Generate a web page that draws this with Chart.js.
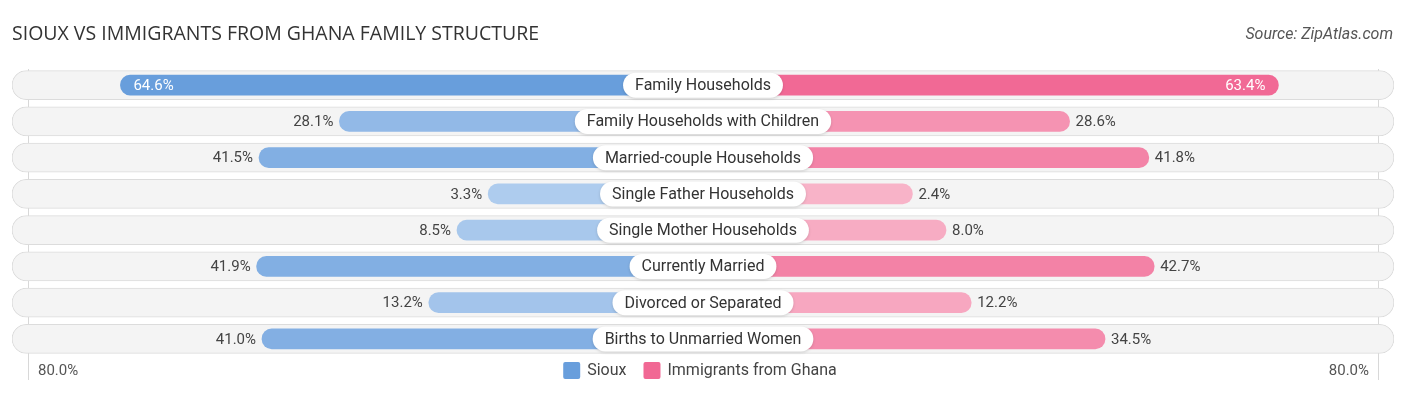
<!DOCTYPE html>
<html>
<head>
<meta charset="utf-8">
<script src="https://cdn.jsdelivr.net/npm/chart.js@4/dist/chart.umd.min.js"></script>
<style>
  html, body { margin: 0; padding: 0; background: #ffffff; }
  #wrap { position: relative; width: 1406px; height: 395px; }
  canvas { display: block; }
</style>
</head>
<body>
<div id="wrap"><canvas id="c" width="1406" height="395"></canvas></div>
<script>
// ---- data ----
const categories = [
  "Family Households",
  "Family Households with Children",
  "Married-couple Households",
  "Single Father Households",
  "Single Mother Households",
  "Currently Married",
  "Divorced or Separated",
  "Births to Unmarried Women"
];
const sioux = [64.6, 28.1, 41.5, 3.3, 8.5, 41.9, 13.2, 41.0];
const ghana = [63.4, 28.6, 41.8, 2.4, 8.0, 42.7, 12.2, 34.5];
const seriesNames = ["Sioux", "Immigrants from Ghana"];
const axisLimit = 80;          // tick label value at both ends
const axisTickLabel = "80.0%";
const title = "SIOUX VS IMMIGRANTS FROM GHANA FAMILY STRUCTURE";
const source = "Source: ZipAtlas.com";

// ---- layout constants ----
const K = 32.5;                 // hidden offset behind centre label (in % units)
const PAD = 2.67;               // track overhang beyond the 80% mark
const EXT = axisLimit + K + PAD;

function mix(a, b, t) {
  t = Math.max(0, Math.min(1, t));
  return `rgb(${Math.round(a[0] + (b[0] - a[0]) * t)},${Math.round(a[1] + (b[1] - a[1]) * t)},${Math.round(a[2] + (b[2] - a[2]) * t)})`;
}
const blueLight = [178, 206, 239], blueFull = [104, 158, 220];
const pinkLight = [248, 182, 202], pinkFull = [241, 104, 148];
const blueCols = sioux.map(v => mix(blueLight, blueFull, v / 64));
const pinkCols = ghana.map(v => mix(pinkLight, pinkFull, v / 64));

const overlay = {
  id: 'overlay',
  beforeDatasetsDraw(chart) {
    const ctx = chart.ctx, x = chart.scales.x, ca = chart.chartArea;
    ctx.save();
    ctx.strokeStyle = '#d8d8d8';
    ctx.lineWidth = 1;
    [-(axisLimit + K), axisLimit + K].forEach(v => {
      const px = Math.round(x.getPixelForValue(v)) + 0.5;
      ctx.beginPath();
      ctx.moveTo(px, ca.top + 2);
      ctx.lineTo(px, 380);
      ctx.stroke();
    });
    ctx.restore();
  },
  afterDatasetsDraw(chart) {
    const ctx = chart.ctx, x = chart.scales.x, y = chart.scales.y;
    ctx.save();
    // title & source
    ctx.textBaseline = 'alphabetic';
    ctx.fillStyle = '#333333';
    ctx.font = '400 19.5px "Open Sans", sans-serif';
    ctx.textAlign = 'left';
    ctx.fillText(title, 12, 40);
    ctx.fillStyle = '#555555';
    ctx.font = 'italic 400 16px Roboto, sans-serif';
    ctx.textAlign = 'right';
    ctx.fillText(source, 1393, 39);

    const cx = x.getPixelForValue(0);
    categories.forEach((cat, i) => {
      const cy = y.getPixelForValue(i);
      // value labels
      ctx.font = '400 15px Roboto, sans-serif';
      ctx.textBaseline = 'middle';
      const ls = x.getPixelForValue(-(sioux[i] + K));
      const rs = x.getPixelForValue(ghana[i] + K);
      if (sioux[i] > 55) {
        ctx.fillStyle = '#ffffff'; ctx.textAlign = 'left';
        ctx.fillText(sioux[i].toFixed(1) + '%', ls + 13, cy + 1);
      } else {
        ctx.fillStyle = '#444444'; ctx.textAlign = 'right';
        ctx.fillText(sioux[i].toFixed(1) + '%', ls - 6, cy + 1);
      }
      if (ghana[i] > 55) {
        ctx.fillStyle = '#ffffff'; ctx.textAlign = 'right';
        ctx.fillText(ghana[i].toFixed(1) + '%', rs - 13, cy + 1);
      } else {
        ctx.fillStyle = '#444444'; ctx.textAlign = 'left';
        ctx.fillText(ghana[i].toFixed(1) + '%', rs + 6, cy + 1);
      }
      // centre pill
      ctx.font = '400 16px Roboto, sans-serif';
      const tw = ctx.measureText(cat).width;
      const w = tw + 24, h = 25;
      ctx.fillStyle = '#ffffff';
      ctx.shadowColor = 'rgba(0,0,0,0.15)';
      ctx.shadowBlur = 3;
      ctx.shadowOffsetY = 1;
      ctx.beginPath();
      ctx.roundRect(cx - w / 2, cy - h / 2, w, h, h / 2);
      ctx.fill();
      ctx.shadowColor = 'transparent';
      ctx.fillStyle = '#333333';
      ctx.textAlign = 'center';
      ctx.fillText(cat, cx, cy + 1);
    });

    // bottom axis labels
    ctx.font = '400 15px Roboto, sans-serif';
    ctx.fillStyle = '#555555';
    ctx.textBaseline = 'middle';
    ctx.textAlign = 'left';
    ctx.fillText(axisTickLabel, 38, 371);
    ctx.textAlign = 'right';
    ctx.fillText(axisTickLabel, 1369, 371);

    // legend
    ctx.font = '400 16px Roboto, sans-serif';
    const items = [
      { name: seriesNames[0], col: 'rgb(104,158,220)' },
      { name: seriesNames[1], col: 'rgb(241,104,148)' }
    ];
    const box = 17, gapBox = 7, gapItem = 17;
    let total = 0;
    items.forEach((it, k) => {
      it.w = ctx.measureText(it.name).width;
      total += box + gapBox + it.w + (k ? gapItem : 0);
    });
    let lx = 700 - total / 2;
    items.forEach((it, k) => {
      if (k) lx += gapItem;
      ctx.fillStyle = it.col;
      ctx.beginPath();
      ctx.roundRect(lx, 362, box, box, 2);
      ctx.fill();
      lx += box + gapBox;
      ctx.fillStyle = '#444444';
      ctx.textAlign = 'left';
      ctx.fillText(it.name, lx, 371);
      lx += it.w;
    });
    ctx.restore();
  }
};

new Chart(document.getElementById('c'), {
  type: 'bar',
  data: {
    labels: categories,
    datasets: [
      {
        label: seriesNames[0],
        data: sioux.map(v => [-(v + K), 0]),
        backgroundColor: blueCols,
        barThickness: 20,
        borderRadius: 10,
        borderSkipped: false,
        grouped: false,
        order: 1
      },
      {
        label: seriesNames[1],
        data: ghana.map(v => [0, v + K]),
        backgroundColor: pinkCols,
        barThickness: 20,
        borderRadius: 10,
        borderSkipped: false,
        grouped: false,
        order: 2
      },
      {
        label: 'track',
        data: categories.map(() => [-EXT, EXT]),
        backgroundColor: '#f4f4f4',
        borderColor: '#dcdcdc',
        borderWidth: 1,
        barThickness: 29,
        borderRadius: 14.5,
        borderSkipped: false,
        grouped: false,
        order: 3
      }
    ]
  },
  options: {
    indexAxis: 'y',
    responsive: false,
    animation: false,
    layout: { padding: { left: 12, right: 12, top: 67, bottom: 38 } },
    scales: {
      x: { type: 'linear', min: -EXT, max: EXT, display: false },
      y: { type: 'category', display: false }
    },
    plugins: {
      legend: { display: false },
      tooltip: { enabled: false }
    }
  },
  plugins: [overlay]
});
</script>
</body>
</html>
